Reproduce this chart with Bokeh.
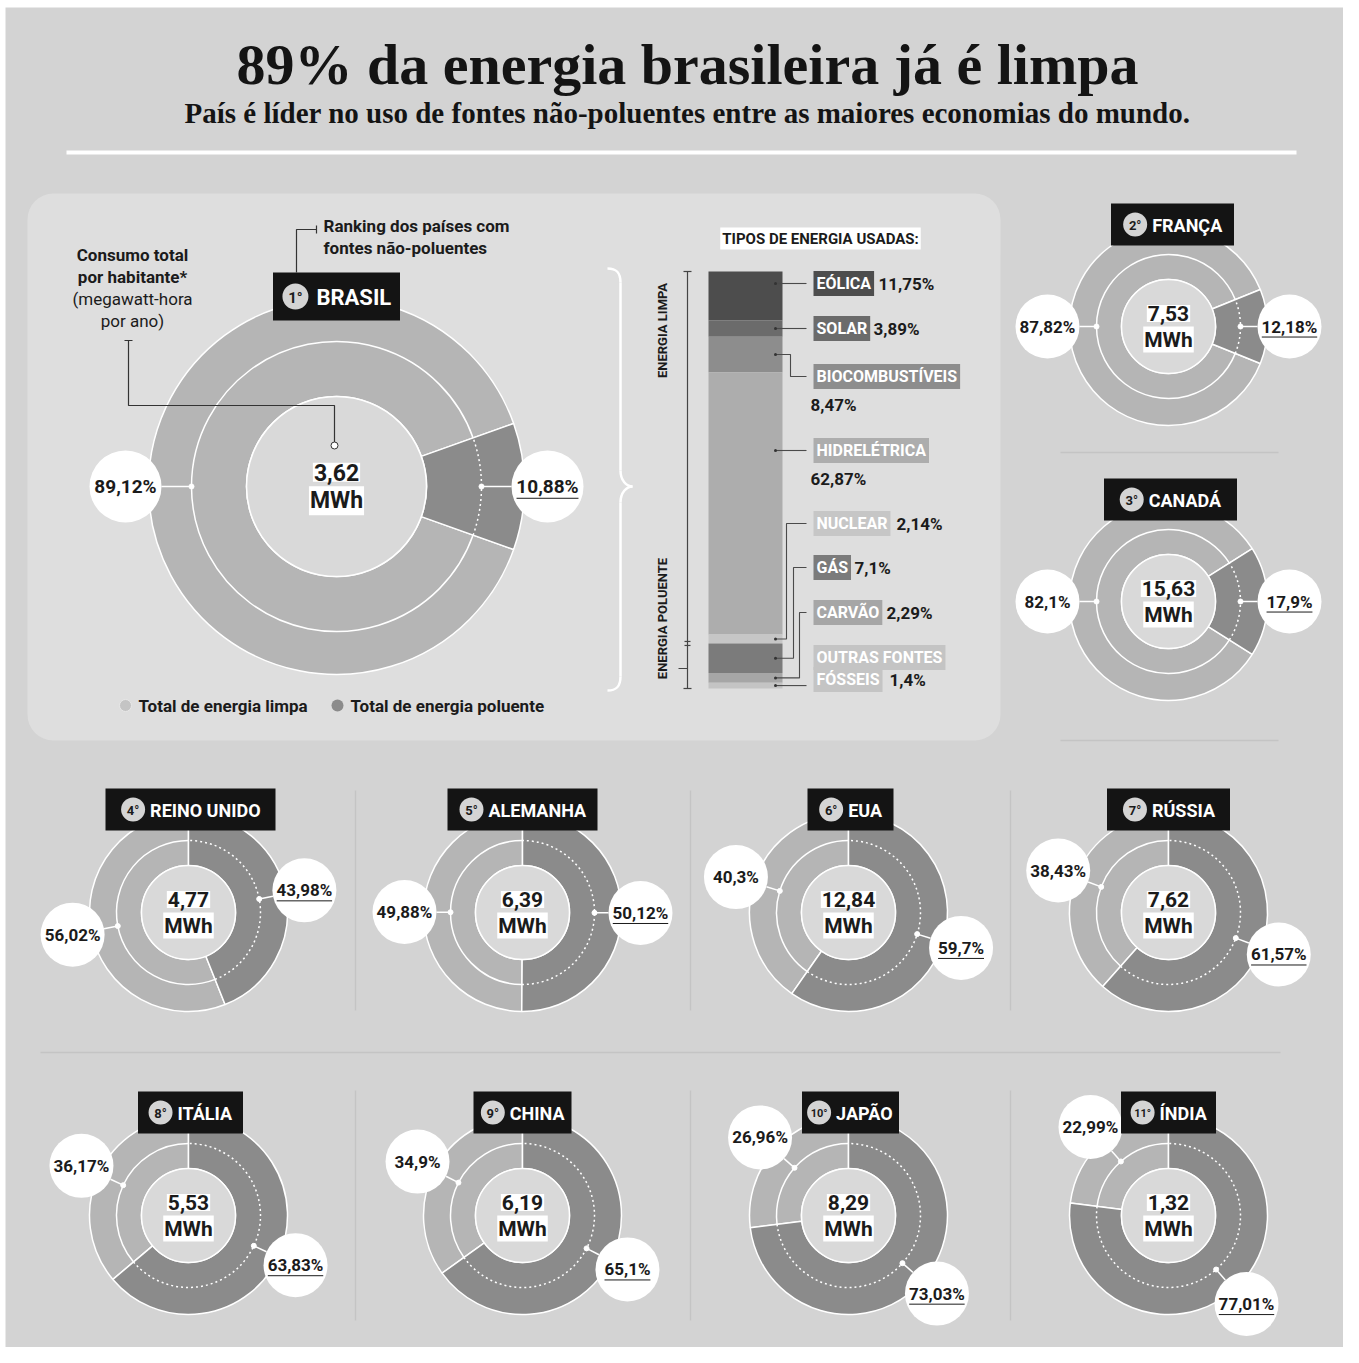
import math
from bokeh.plotting import figure
from bokeh.models import Range1d
from bokeh.embed import file_html
from bokeh.resources import INLINE
from bokeh.core.properties import value

# ---------------- data ----------------
countries = ["BRASIL", "FRANÇA", "CANADÁ", "REINO UNIDO", "ALEMANHA", "EUA",
             "RÚSSIA", "ITÁLIA", "CHINA", "JAPÃO", "ÍNDIA"]
ranks = ["1°", "2°", "3°", "4°", "5°", "6°", "7°", "8°", "9°", "10°", "11°"]
clean_share = [89.12, 87.82, 82.1, 56.02, 49.88, 40.3, 38.43, 36.17, 34.9, 26.96, 22.99]
polluting_share = [10.88, 12.18, 17.9, 43.98, 50.12, 59.7, 61.57, 63.83, 65.1, 73.03, 77.01]
consumption_mwh = [3.62, 7.53, 15.63, 4.77, 6.39, 12.84, 7.62, 5.53, 6.19, 8.29, 1.32]

energy_types = ["EÓLICA", "SOLAR", "BIOCOMBUSTÍVEIS", "HIDRELÉTRICA",
                "NUCLEAR", "GÁS", "CARVÃO", "OUTRAS FONTES\nFÓSSEIS"]
energy_share = [11.75, 3.89, 8.47, 62.87, 2.14, 7.1, 2.29, 1.4]

title = "89% da energia brasileira já é limpa"
subtitle = "País é líder no uso de fontes não-poluentes entre as maiores economias do mundo."

# ---------------- styles / layout ----------------
BG = "#d3d3d3"
PANEL = "#dedede"
CLEAN = "#b5b5b5"
DIRTY = "#8b8b8b"
CENTER = "#d9d9d9"
DARK = "#1b1b1b"
SANS = "Roboto"
SERIF = "Liberation Serif"
energy_colors = ["#4d4d4d", "#6b6b6b", "#8d8d8d", "#adadad", "#c6c6c6", "#7b7b7b", "#a6a6a6", "#c4c4c4"]

donut_centers = [(336, 486), (1168, 326), (1168, 601), (188, 912), (522, 912), (848, 912),
                 (1168, 912), (188, 1215), (522, 1215), (848, 1215), (1168, 1215)]
box_centers = [(336, 296), (1172, 224), (1170, 499), (190, 809), (522, 809), (850, 809),
               (1168, 809), (190, 1112), (522, 1112), (850, 1112), (1168, 1112)]
box_widths = [127, 123, 133, 170, 150, 86, 123, 105, 98, 97, 95]

FW, FH = 1343, 1347


def Y(v):
    return FH - v


def fmt(v):
    return ("%g" % v).replace(".", ",")


CW = {"I": .28, "Í": .28, " ": .25, "M": .87, "W": .87, "J": .55, "L": .54, "E": .55,
      "F": .54, "S": .61, "T": .61, "P": .63, "R": .63, "U": .65, "Ú": .65, "D": .66,
      "H": .71, "N": .71, "C": .65, "Ç": .65, "A": .67, "Á": .67, "Ã": .67, "O": .69}


def cap_width(s, size):
    return size * sum(CW.get(ch, .64) for ch in s)


p = figure(width=FW, height=FH, x_range=Range1d(0, FW), y_range=Range1d(0, FH),
           output_backend="svg", toolbar_location=None, min_border=0)
p.axis.visible = False
p.grid.visible = False
p.outline_line_color = None
p.background_fill_color = "white"
p.border_fill_color = "white"
p.quad(left=5, right=FW, bottom=0, top=Y(7), fill_color=BG, line_color=None)


def txt(x, y, s, size, color=DARK, font=SANS, style="bold", align="left",
        baseline="middle", angle=0.0, bg=None, pad=1):
    kw = {}
    if bg is not None:
        kw = dict(background_fill_color=bg, padding=pad)
    p.text(x=[x], y=[Y(y)], text=[s], text_font=value(font), text_font_size=f"{size}px",
           text_font_style=style, text_color=color, text_align=align,
           text_baseline=baseline, angle=angle, text_line_height=1.3, **kw)


def poly(pts, color="#444444", width=1.0, dash="solid"):
    p.line(x=[a for a, b in pts], y=[Y(b) for a, b in pts], line_color=color,
           line_width=width, line_dash=dash)


# ---------------- title ----------------
txt(687, 64, title, 58, font=SERIF, align="center", color="#141414")
txt(687, 112, subtitle, 29, font=SERIF, align="center", color="#141414")
poly([(66, 152), (1296, 152)], color="white", width=4)

# ---------------- Brasil panel ----------------
p.quad(left=27, right=1000, bottom=Y(740), top=Y(193), fill_color=PANEL,
       line_color=None, border_radius=26)

# dividers
for yy in (452, 740):
    poly([(1060, yy), (1278, yy)], color="#c4c4c4", width=1.5)
poly([(40, 1052), (1280, 1052)], color="#c4c4c4", width=1.5)
for xx in (355, 690, 1010):
    poly([(xx, 790), (xx, 1010)], color="#c4c4c4", width=1.5)
    poly([(xx, 1090), (xx, 1320)], color="#c4c4c4", width=1.5)


def pct_width(s, size):
    d = sum(ch.isdigit() for ch in s)
    return size * (0.56 * d + 0.22 + 0.8)


def donut(i, r1, r2, r3, lab_d, lab_r, lab_fs, c_fs, mode):
    cx, cy = donut_centers[i]
    cyy = Y(cy)
    f = polluting_share[i] / 100.0
    if mode == "right":
        d0, d1 = -math.pi * f, math.pi * f
    else:
        d0, d1 = math.pi / 2 - 2 * math.pi * f, math.pi / 2
    c0, c1 = d1, d0 + 2 * math.pi
    p.annular_wedge(x=cx, y=cyy, inner_radius=r1, outer_radius=r3, start_angle=c0,
                    end_angle=c1, fill_color=CLEAN, line_color="white", line_width=1.5)
    p.annular_wedge(x=cx, y=cyy, inner_radius=r1, outer_radius=r3, start_angle=d0,
                    end_angle=d1, fill_color=DIRTY, line_color="white", line_width=1.5)
    p.arc(x=cx, y=cyy, radius=r2, start_angle=c0, end_angle=c1, line_color="white",
          line_width=1.5)
    p.arc(x=cx, y=cyy, radius=r2, start_angle=d0, end_angle=d1, line_color="white",
          line_width=1.5, line_dash="2 3")
    p.circle(x=cx, y=cyy, radius=r1, fill_color=CENTER, line_color="white", line_width=1.5)
    # centre value
    off = c_fs * 0.62
    txt(cx, cy - off, fmt(consumption_mwh[i]), c_fs, align="center", bg="white")
    txt(cx, cy + off, "MWh", c_fs, align="center", bg="white")
    # percentage call-outs
    for ang, s, under in (((d0 + d1) / 2, fmt(polluting_share[i]) + "%", True),
                          ((c0 + c1) / 2, fmt(clean_share[i]) + "%", False)):
        ca, sa = math.cos(ang), math.sin(ang)
        lx, ly = cx + lab_d * ca, cyy + lab_d * sa
        p.line(x=[cx + r2 * ca, cx + (lab_d - lab_r) * ca],
               y=[cyy + r2 * sa, cyy + (lab_d - lab_r) * sa], line_color="white", line_width=1.5)
        p.scatter(x=[cx + r2 * ca], y=[cyy + r2 * sa], size=5, fill_color="white",
                  line_color="white")
        p.circle(x=[lx], y=[ly], radius=lab_r, fill_color="white", line_color=None)
        p.text(x=[lx], y=[ly], text=[s], text_font=value(SANS), text_font_size=f"{lab_fs}px",
               text_font_style="bold", text_color=DARK, text_align="center",
               text_baseline="middle")
        if under:
            w = pct_width(s, lab_fs)
            p.line(x=[lx - w / 2, lx + w / 2], y=[ly - lab_fs * 0.62] * 2, line_color=DARK,
                   line_width=1)
    # name box
    bx, by = box_centers[i]
    w = box_widths[i]
    big = i == 0
    h = 48 if big else 42
    p.rect(x=bx, y=Y(by), width=w, height=h, fill_color="#141414", line_color=None)
    fs = 22 if big else 18
    rr = 13 if big else 12
    gap = 8 if big else 5
    group = 2 * rr + gap + cap_width(countries[i], fs)
    start = bx - group / 2
    rx = start + rr
    p.circle(x=[rx], y=[Y(by)], radius=rr, fill_color="#d4d4d4", line_color=None)
    txt(rx, by + 1, ranks[i], 15 if big else (13 if len(ranks[i]) == 2 else 11), align="center")
    txt(rx + rr + gap, by + 1, countries[i], fs, color="white")


donut(0, 90, 145, 188, 211, 36, 19, 23, "right")
for k in (1, 2):
    donut(k, 47, 72, 99, 121, 32, 17, 21, "right")
for k in range(3, 11):
    donut(k, 47, 72, 99, 118, 32, 17, 21, "top")

# Brasil annotations
txt(323, 225, "Ranking dos países com", 17)
txt(323, 247, "fontes não-poluentes", 17)
poly([(296, 272), (296, 229), (316, 229)], color="#333333", width=1.2)
poly([(316, 225), (316, 233)], color="#333333", width=1.2)

txt(132, 254, "Consumo total", 17, align="center")
txt(132, 276, "por habitante*", 17, align="center")
txt(132, 298, "(megawatt-hora", 17, align="center", style="normal")
txt(132, 320, "por ano)", 17, align="center", style="normal")
poly([(124, 340), (132, 340)], color="#333333", width=1.2)
poly([(128, 340), (128, 405), (334, 405), (334, 442)], color="#333333", width=1.2)
p.scatter(x=[334], y=[Y(445)], size=7, fill_color="white", line_color="#333333")

# legend
p.scatter(x=[125], y=[Y(705)], size=12, fill_color="#c4c4c4", line_color="#e8e8e8")
txt(138, 705, "Total de energia limpa", 17)
p.scatter(x=[337], y=[Y(705)], size=12, fill_color=DIRTY, line_color=None)
txt(350, 705, "Total de energia poluente", 17)

# brace
p.bezier(x0=[607, 620, 632, 620], y0=[Y(268), Y(470), Y(486), Y(676)],
         x1=[620, 632, 620, 607], y1=[Y(282), Y(486), Y(502), Y(690)],
         cx0=[616, 620, 626, 620], cy0=[Y(268), Y(480), Y(486), Y(686)],
         cx1=[620, 626, 620, 616], cy1=[Y(272), Y(486), Y(492), Y(690)],
         line_color="white", line_width=2.5)
poly([(620, 282), (620, 470)], color="white", width=2.5)
poly([(620, 502), (620, 676)], color="white", width=2.5)

# ---------------- stacked bar ----------------
txt(820, 238, "TIPOS DE ENERGIA USADAS:", 15, align="center", bg="white", pad=2)
bar_top, bar_bottom = 271, 688
scale = (bar_bottom - bar_top) / sum(energy_share)
tops, bottoms = [], []
acc = bar_top
for s in energy_share:
    tops.append(acc)
    acc += s * scale
    bottoms.append(acc)
p.quad(left=708, right=782, top=[Y(t) for t in tops], bottom=[Y(b) for b in bottoms],
       fill_color=energy_colors, line_color=None)

# scale line
poly([(687, bar_top), (687, bar_bottom)], color="#444444", width=1.2)
for yy in (bar_top, bar_bottom):
    poly([(683, yy), (691, yy)], color="#444444", width=1.2)
clean_end = bar_top + sum(energy_share[:5]) * scale
poly([(684, clean_end - 2), (690, clean_end - 2)], color="#444444", width=1.2)
poly([(684, clean_end + 2), (690, clean_end + 2)], color="#444444", width=1.2)
poly([(678, 668), (687, 668)], color="#444444", width=1.0)
txt(662, 330, "ENERGIA LIMPA", 13, angle=math.pi / 2, align="center")
txt(662, 618, "ENERGIA POLUENTE", 13, angle=math.pi / 2, align="center")

label_y = [283, 328, 376, 450, 523, 567, 612, 657]
value_pos = [(878, 283), (873, 328), (810, 404), (810, 478), (896, 523), (854, 567),
             (886, 612), (889, 679)]
elbow_x = [None, None, 790, None, 786, 793, 799, None]
for j, name in enumerate(energy_types):
    mid = (tops[j] + bottoms[j]) / 2
    ly = label_y[j]
    if elbow_x[j] is None:
        sy = ly if tops[j] <= ly <= bottoms[j] else mid
        pts = [(775, sy), (806, sy)] if sy == ly else [(775, sy), (806, ly)]
        if j == 7:
            pts = [(775, mid), (806, mid)]
    else:
        pts = [(775, mid), (elbow_x[j], mid), (elbow_x[j], ly), (806, ly)]
    poly(pts, color="#4a4a4a", width=1.1)
    p.scatter(x=[775], y=[Y(pts[0][1])], size=3, fill_color="#333333", line_color=None)
    lines = name.split("\n")
    for n, part in enumerate(lines):
        txt(813, ly + n * 22, part, 16, color="white", bg=energy_colors[j], pad=3)
    vx, vy = value_pos[j]
    txt(vx, vy, fmt(energy_share[j]) + "%", 17)

open("out.html", "w").write(file_html(p, INLINE))
